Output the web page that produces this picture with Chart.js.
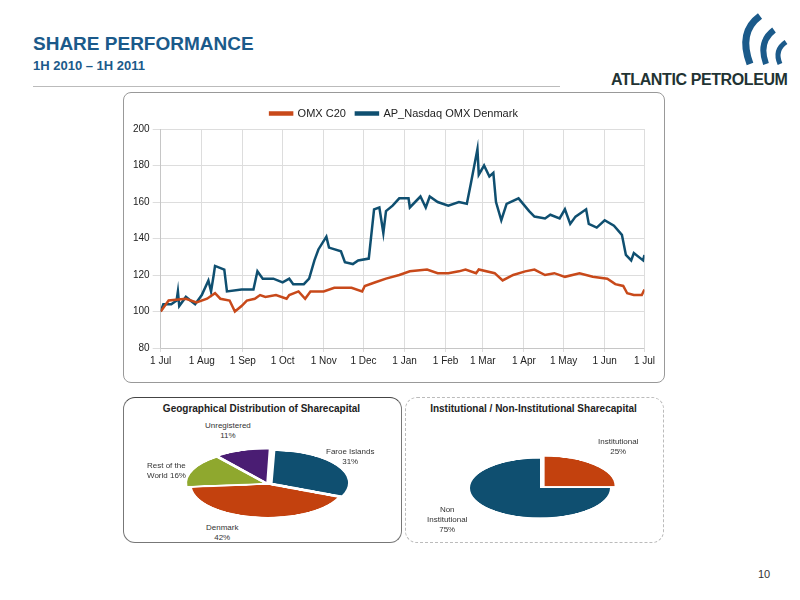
<!DOCTYPE html>
<html>
<head>
<meta charset="utf-8">
<script src="https://cdn.jsdelivr.net/npm/chart.js@4/dist/chart.umd.min.js"></script>
<style>
  body { margin: 0; width: 800px; height: 600px; background: #fff; font-family: "Liberation Sans", Arial, sans-serif; position: relative; overflow: hidden; }
  .abs { position: absolute; }
  #title { left: 33px; top: 33px; color: #1b5a8a; font-weight: bold; font-size: 19px; }
  #sub { left: 33px; top: 58px; color: #1b5a8a; font-weight: bold; font-size: 13px; }
  #rule { left: 33px; top: 86px; width: 527px; height: 1px; background: #bbb; }
  #logo { left: 611px; top: 71px; font-weight: bold; font-size: 16px; color: #233; letter-spacing: -0.4px; }
  #lineBox { left: 123px; top: 92px; width: 540px; height: 289px; border: 1px solid #999; border-radius: 8px; }
  .pieBox { border: 1px solid #777; border-radius: 12px; }
  .ptitle { font-weight: bold; font-size: 10px; color: #222; text-align: center; }
  .lbl { font-size: 8px; color: #333; text-align: center; line-height: 10px; }
  #pg { left: 758px; top: 568px; font-size: 11px; color: #333; }
</style>
</head>
<body>
<div id="title" class="abs">SHARE PERFORMANCE</div>
<div id="sub" class="abs">1H 2010 – 1H 2011</div>
<div id="rule" class="abs"></div>
<svg class="abs" style="left:730px;top:12px" width="60" height="55">
  <path d="M30 4 Q8 20 20 52" stroke="#1b5a8a" stroke-width="7" fill="none"/>
  <path d="M44 18 Q28 30 36 52" stroke="#1b5a8a" stroke-width="6" fill="none"/>
  <path d="M56 30 Q44 38 50 52" stroke="#1b5a8a" stroke-width="5" fill="none"/>
</svg>
<div id="logo" class="abs">ATLANTIC PETROLEUM</div>
<div id="lineBox" class="abs"></div>
<div class="abs" style="left:130px;top:98px;width:528px;height:272px"><canvas id="line" width="528" height="272"></canvas></div>

<div class="abs pieBox" style="left:123px;top:397px;width:277px;height:144px;border-top-color:#444"></div>
<div class="abs ptitle" style="left:123px;top:403px;width:277px">Geographical Distribution of Sharecapital</div>
<canvas id="pie1" class="abs" width="176" height="176" style="left:180px;top:396px;transform:scaleY(0.42)"></canvas>
<div class="abs lbl" style="left:205px;top:421px">Unregistered<br>11%</div>
<div class="abs lbl" style="left:326px;top:447px">Faroe Islands<br>31%</div>
<div class="abs lbl" style="left:147px;top:461px;text-align:left">Rest of the<br>World 16%</div>
<div class="abs lbl" style="left:206px;top:523px">Denmark<br>42%</div>

<div class="abs" style="left:405px;top:397px;width:257px;height:144px;border:1px dashed #bbb;border-radius:12px"></div>
<div class="abs ptitle" style="left:405px;top:403px;width:257px">Institutional / Non-Institutional Sharecapital</div>
<canvas id="pie2" class="abs" width="170" height="170" style="left:455px;top:403px;transform:scaleY(0.42)"></canvas>
<div class="abs lbl" style="left:598px;top:437px">Institutional<br>25%</div>
<div class="abs lbl" style="left:427px;top:505px">Non<br>Institutional<br>75%</div>

<div id="pg" class="abs">10</div>

<script>
// days since 1 Jul 2010
const monthDays = [0, 31, 62, 92, 123, 153, 184, 215, 243, 274, 304, 335, 365];
const monthLabels = ['1 Jul', '1 Aug', '1 Sep', '1 Oct', '1 Nov', '1 Dec', '1 Jan', '1 Feb', '1 Mar', '1 Apr', '1 May', '1 Jun', '1 Jul'];

const apDays = [0, 2, 8, 12, 13, 14, 19, 26, 31, 36, 38, 40, 41, 48, 50, 61, 70, 73, 77, 85, 92, 97, 100, 108, 112, 116, 119, 125, 127, 136, 139, 145, 149, 157, 161, 165, 168, 170, 175, 180, 187, 188, 196, 200, 203, 209, 217, 225, 231, 234, 239, 240, 244, 248, 251, 253, 257, 261, 270, 278, 282, 290, 294, 301, 305, 309, 313, 321, 323, 329, 335, 342, 348, 351, 355, 357, 364, 365];
const apValues = [100, 104, 104, 106, 111, 103, 108, 104, 109, 117, 111, 120, 125, 123, 111, 112, 112, 122, 118, 118, 116, 118, 115, 115, 118, 128, 134, 141, 135, 133, 127, 126, 128, 129, 156, 157, 143, 155, 158, 162, 162, 157, 163, 157, 163, 160, 158, 160, 159, 170, 189, 175, 180, 174, 176, 160, 150, 159, 162, 155, 152, 151, 153, 151, 156, 148, 152, 156, 148, 146, 150, 147, 142, 131, 128, 132, 128, 131];

const omxDays = [0, 3, 6, 19, 27, 35, 41, 45, 52, 56, 61, 65, 71, 75, 79, 87, 95, 97, 104, 109, 113, 123, 131, 144, 152, 154, 162, 170, 180, 188, 201, 209, 217, 225, 230, 238, 240, 252, 258, 266, 275, 282, 290, 297, 305, 316, 326, 337, 343, 349, 352, 357, 363, 365];
const omxValues = [100, 103, 106, 107, 105, 107, 110, 107, 106, 100, 103, 106, 107, 109, 108, 109, 107, 109, 111, 107, 111, 111, 113, 113, 111, 114, 116, 118, 120, 122, 123, 121, 121, 122, 123, 121, 123, 121, 117, 120, 122, 123, 120, 121, 119, 121, 119, 118, 115, 114, 110, 109, 109, 112];

const pie1Labels = ['Faroe Islands', 'Denmark', 'Rest of the World', 'Unregistered'];
const pie1Values = [31, 42, 16, 11];
const pie2Labels = ['Institutional', 'Non Institutional'];
const pie2Values = [25, 75];

const toPts = (xs, ys) => xs.map((x, i) => ({ x: x, y: ys[i] }));

new Chart(document.getElementById('line'), {
    type: 'line',
    data: {
        datasets: [
            { label: 'OMX C20', data: toPts(omxDays, omxValues), borderColor: '#c8491a', borderWidth: 2.5, pointRadius: 0, tension: 0 },
            { label: 'AP_Nasdaq OMX Denmark', data: toPts(apDays, apValues), borderColor: '#0f4f70', borderWidth: 2.5, pointRadius: 0, tension: 0 }
        ]
    },
    options: {
        responsive: false,
        animation: false,
        plugins: {
            legend: { labels: { boxWidth: 22, boxHeight: 2, color: '#222', font: { size: 11, family: 'Liberation Sans' } } },
            tooltip: { enabled: false }
        },
        scales: {
            x: {
                type: 'linear', min: 0, max: 365,
                afterBuildTicks: axis => { axis.ticks = monthDays.map(v => ({ value: v })); },
                ticks: { autoSkip: false, maxRotation: 0, color: '#222', font: { size: 10 }, callback: (v, i) => monthLabels[i] },
                grid: { color: '#ddd', drawTicks: true, tickLength: 4 }
            },
            y: {
                min: 80, max: 200,
                ticks: { stepSize: 20, color: '#222', font: { size: 10 } },
                grid: { color: '#ddd' }
            }
        }
    }
});

function pie(id, labels, values, colors, offsets, rot) {
    new Chart(document.getElementById(id), {
        type: 'pie',
        data: { labels: labels, datasets: [{ data: values, backgroundColor: colors, borderWidth: 0, offset: offsets }] },
        options: { responsive: false, animation: false, rotation: rot, layout: { padding: 2 },
            plugins: { legend: { display: false }, tooltip: { enabled: false } } }
    });
}
pie('pie1', pie1Labels, pie1Values, ['#0f4f70', '#c3410e', '#8fa82e', '#4a1d73'], [22, 8, 22, 22], 2);
pie('pie2', pie2Labels, pie2Values, ['#c3410e', '#0f4f70'], [26, 0], 0);
</script>
</body>
</html>
